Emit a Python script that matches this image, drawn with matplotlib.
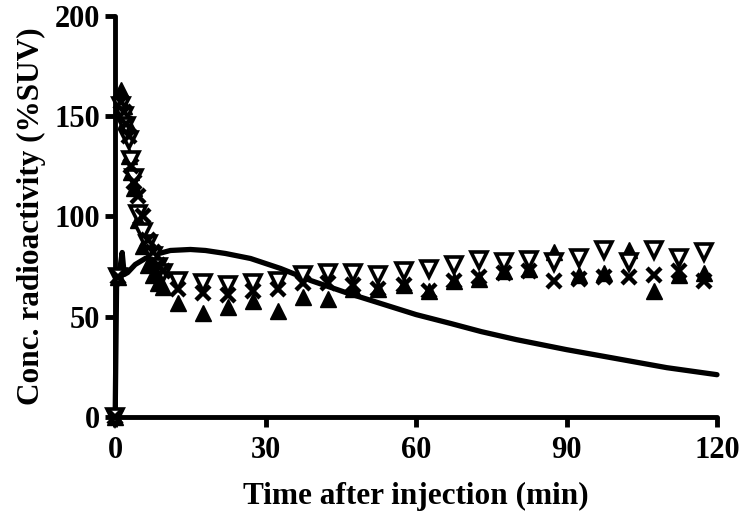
import numpy as np
import matplotlib
matplotlib.use("Agg")
import matplotlib.pyplot as plt

# measured tissue curves (%SUV)
time_pts = [0, 0.5, 1.25, 1.75, 2.25, 2.75, 3.25, 3.75, 4.5, 5.5, 6.5, 7.5, 8.5, 9.5,
            12.5, 17.5, 22.5, 27.5, 32.5, 37.5, 42.5, 47.5, 52.5, 57.5, 62.5,
            67.5, 72.5, 77.5, 82.5, 87.5, 92.5, 97.5, 102.5, 107.5, 112.5, 117.5]
tri_up = [0, 70, 163, 155, 148, 130, 122, 114, 98, 85, 76, 71, 67, 65,
          57, 52, 55, 58, 53, 60, 59, 64, 64, 66, 63,
          68, 69, 73, 74, 82, 71, 72, 83, 63, 71, 72]
tri_down = [0, 70, 155, 150, 145, 138, 128, 119, 101, 92, 86, 80, 75, 72,
            68, 67, 66, 67, 68, 71, 72, 72, 71, 73, 74,
            76, 78, 77, 78, 77, 79, 83, 77, 83, 79, 82]
cross = [0, 70, 157, 152, 146, 140, 125, 117, 110, 100, 88, 82, 76, 73,
         64, 62, 61, 63, 64, 67, 67, 66, 64, 66, 63,
         68, 70, 72, 73, 68, 69, 70, 70, 71, 73, 68]

# fitted / input curve
curve_t = [0, 0.3, 1.0, 1.4, 1.8, 2.5, 4, 6, 8, 11, 15, 18, 22, 27, 33, 39,
           46, 53, 60, 67, 73, 80, 90, 100, 110, 120]
curve_v = [0, 70, 75, 82, 71, 72, 76, 79, 81, 83, 83.5, 83, 81.5, 79, 74, 68,
           62, 56.5, 51, 46.5, 42.5, 38.5, 33.5, 29, 24.5, 21]

plt.rcParams['font.family'] = ['Liberation Serif', 'DejaVu Serif']
plt.rcParams['font.weight'] = 'bold'

fig = plt.figure(figsize=(7.43, 5.19), dpi=100)
ax = fig.add_axes([0.155, 0.197, 0.81, 0.772])

ax.plot(curve_t, curve_v, color='black', lw=3.8, solid_capstyle='round',
        solid_joinstyle='round', clip_on=False, zorder=2)

ms = 11.5
ax.plot(time_pts, tri_up, linestyle='none', marker='^', ms=ms, color='black',
        clip_on=False, zorder=3)
ax.plot(time_pts, tri_down, linestyle='none', marker='v', ms=ms, mfc='white',
        mec='black', mew=2.6, clip_on=False, zorder=3)
ax.plot(time_pts, cross, linestyle='none', marker='x', ms=ms - 2, mec='black',
        mew=3.2, clip_on=False, zorder=3)

ax.set_xlim(0, 120)
ax.set_ylim(0, 200)
ax.set_xticks([0, 30, 60, 90, 120])
ax.set_yticks([0, 50, 100, 150, 200])

for side in ['top', 'right']:
    ax.spines[side].set_visible(False)
for side in ['left', 'bottom']:
    ax.spines[side].set_linewidth(3.5)
    ax.spines[side].set_capstyle('round')

ax.tick_params(width=3.5, length=7, labelsize=22, pad=4)
ax.tick_params(axis='x', pad=7)
for lab in ax.get_xticklabels() + ax.get_yticklabels():
    lab.set_fontweight('bold')

ax.set_xlabel('Time after injection (min)', fontsize=22.5, fontweight='bold',
              labelpad=12)
ax.set_ylabel('Conc. radioactivity (%SUV)', fontsize=22.5, fontweight='bold',
              labelpad=6)

fig.savefig('out.png', dpi=100)
